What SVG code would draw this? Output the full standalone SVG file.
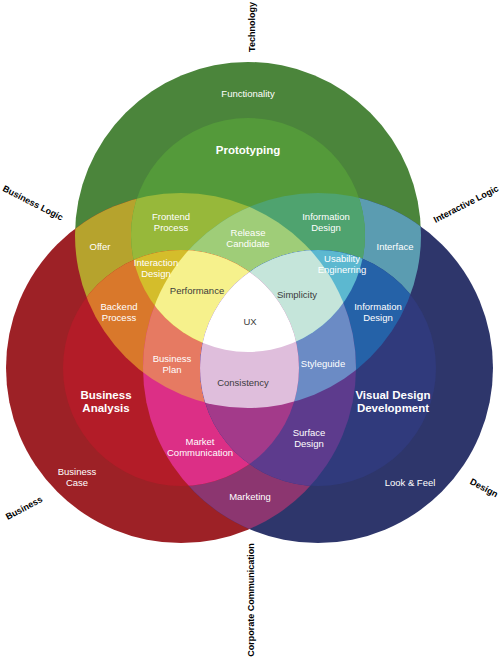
<svg xmlns="http://www.w3.org/2000/svg" width="500" height="660" viewBox="0 0 500 660">
<style>
.l{font-family:"Liberation Sans",Arial,sans-serif;font-size:9.5px;fill:#fff;text-anchor:middle}
.d{font-family:"Liberation Sans",Arial,sans-serif;font-size:9.5px;fill:#3c3c3c;text-anchor:middle}
.b{font-family:"Liberation Sans",Arial,sans-serif;font-size:11.5px;font-weight:bold;fill:#fff;text-anchor:middle}
.c{font-family:"Liberation Sans",Arial,sans-serif;font-size:9px;font-weight:bold;fill:#000;text-anchor:middle}
</style>
<defs>
<circle id="G" cx="248" cy="235" r="173"/>
<circle id="R" cx="181" cy="368" r="175"/>
<circle id="B" cx="318" cy="368" r="175"/>
<circle id="g" cx="248" cy="235" r="117"/>
<circle id="r" cx="181" cy="368" r="118"/>
<circle id="b" cx="318" cy="368" r="118"/>
<clipPath id="cG"><use href="#G"/></clipPath>
<clipPath id="cR"><use href="#R"/></clipPath>
<clipPath id="cB"><use href="#B"/></clipPath>
<clipPath id="cg"><use href="#g"/></clipPath>
<clipPath id="cr"><use href="#r"/></clipPath>
<clipPath id="cb"><use href="#b"/></clipPath>
</defs>
<g id="outer">
<use href="#G" fill="#4b853b"/>
<use href="#R" fill="#9d2126"/>
<use href="#B" fill="#2e366b"/>
<g clip-path="url(#cR)"><use href="#G" fill="#b6a32d"/></g>
<g clip-path="url(#cB)"><use href="#G" fill="#5b9cb1"/></g>
<g clip-path="url(#cB)"><use href="#R" fill="#8c3670"/></g>
</g>
<g id="inner-green">
<use href="#g" fill="#549a3a"/>
<g clip-path="url(#cR)"><use href="#g" fill="#97b83a"/></g>
<g clip-path="url(#cB)"><use href="#g" fill="#4fa36f"/></g>
<g clip-path="url(#cR)"><g clip-path="url(#cB)"><use href="#g" fill="#9fcd78"/></g></g>
</g>
<g id="inner-red">
<use href="#r" fill="#b31c28"/>
<g clip-path="url(#cG)"><use href="#r" fill="#d9782b"/></g>
<g clip-path="url(#cB)"><use href="#r" fill="#dc2f86"/></g>
<g clip-path="url(#cG)"><g clip-path="url(#cB)"><use href="#r" fill="#e67a62"/></g></g>
</g>
<g id="inner-blue">
<use href="#b" fill="#303a7c"/>
<g clip-path="url(#cG)"><use href="#b" fill="#2562a8"/></g>
<g clip-path="url(#cR)"><use href="#b" fill="#5d3b8d"/></g>
<g clip-path="url(#cG)"><g clip-path="url(#cR)"><use href="#b" fill="#6b8bc5"/></g></g>
</g>
<g id="inner-overlaps">
<g clip-path="url(#cr)"><use href="#g" fill="#d4bd2b"/></g>
<g clip-path="url(#cr)"><g clip-path="url(#cB)"><use href="#g" fill="#f6f18c"/></g></g>
<g clip-path="url(#cb)"><use href="#g" fill="#5cb8d0"/></g>
<g clip-path="url(#cb)"><g clip-path="url(#cR)"><use href="#g" fill="#c5e5da"/></g></g>
<g clip-path="url(#cb)"><use href="#r" fill="#a33a8a"/></g>
<g clip-path="url(#cb)"><g clip-path="url(#cG)"><use href="#r" fill="#dfbedc"/></g></g>
<g clip-path="url(#cb)"><g clip-path="url(#cg)"><use href="#r" fill="#ffffff"/></g></g>
</g>
<g id="labels">
<text class="l" x="248" y="96.5">Functionality</text>
<text class="b" x="248" y="154">Prototyping</text>
<text class="l" x="171" y="219.5">Frontend</text>
<text class="l" x="171" y="230.5">Process</text>
<text class="l" x="248" y="235.5">Release</text>
<text class="l" x="248" y="246.5">Candidate</text>
<text class="l" x="326" y="219.5">Information</text>
<text class="l" x="326" y="231">Design</text>
<text class="l" x="100" y="249.5">Offer</text>
<text class="l" x="395" y="249.5">Interface</text>
<text class="l" x="156" y="265.5">Interaction</text>
<text class="l" x="156" y="276.5">Design</text>
<text class="l" x="342" y="261.5">Usability</text>
<text class="l" x="342" y="273">Enginerring</text>
<text class="d" x="197" y="293.5">Performance</text>
<text class="d" x="297" y="297.5">Simplicity</text>
<text class="d" x="250" y="324.5">UX</text>
<text class="l" x="119" y="309.5">Backend</text>
<text class="l" x="119" y="320.5">Process</text>
<text class="l" x="378" y="309.5">Information</text>
<text class="l" x="378" y="320.5">Design</text>
<text class="l" x="172" y="361.5">Business</text>
<text class="l" x="172" y="372.5">Plan</text>
<text class="l" x="323" y="366.5">Styleguide</text>
<text class="d" x="243" y="385.5">Consistency</text>
<text class="b" x="106" y="399">Business</text>
<text class="b" x="106" y="412">Analysis</text>
<text class="b" x="393" y="399">Visual Design</text>
<text class="b" x="393" y="412">Development</text>
<text class="l" x="200" y="444.5">Market</text>
<text class="l" x="200" y="455.5">Communication</text>
<text class="l" x="309" y="435.5">Surface</text>
<text class="l" x="309" y="446.5">Design</text>
<text class="l" x="77" y="474.5">Business</text>
<text class="l" x="77" y="485.5">Case</text>
<text class="l" x="250" y="499.5">Marketing</text>
<text class="l" x="410" y="485.5">Look &amp; Feel</text>
</g>
<g id="categories">
<text class="c" transform="translate(252,27) rotate(-90)" y="3">Technology</text>
<text class="c" transform="translate(33,203) rotate(27)" y="3">Business Logic</text>
<text class="c" transform="translate(466,204) rotate(-27)" y="3">Interactive Logic</text>
<text class="c" transform="translate(24,508) rotate(-28)" y="3">Business</text>
<text class="c" transform="translate(484,488) rotate(28)" y="3">Design</text>
<text class="c" transform="translate(251,600) rotate(-90)" y="3">Corporate Communication</text>
</g>
</svg>
